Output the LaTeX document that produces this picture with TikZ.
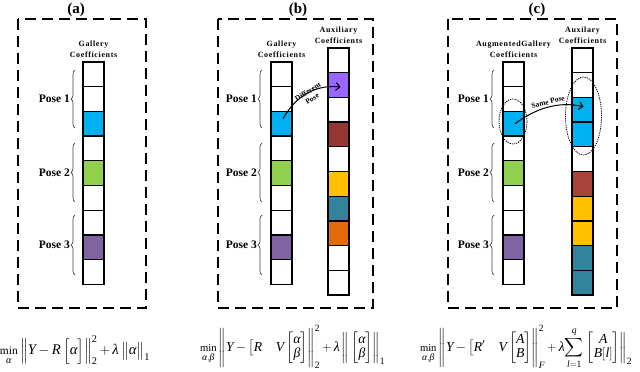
\documentclass[tikz,border=0pt]{standalone}
\usepackage{amsmath}
\usepackage{fontspec}
\usepackage{graphicx}
\setmainfont{Liberation Serif}
\newfontfamily\lblfont[LetterSpace=8]{Liberation Serif}
\usetikzlibrary{decorations.pathreplacing,arrows.meta,shapes.geometric}
\definecolor{cblue}{HTML}{00B0F0}
\definecolor{cgreen}{HTML}{92D050}
\definecolor{cpurple}{HTML}{8064A2}
\definecolor{cviolet}{HTML}{9966FF}
\definecolor{cbrown}{HTML}{943634}
\definecolor{cyellow}{HTML}{FFC000}
\definecolor{cteal}{HTML}{31849B}
\definecolor{corange}{HTML}{E36C09}
\definecolor{cred}{HTML}{A9443C}
\newcommand{\mystrut}[2]{\rule[-#2pt]{0pt}{\dimexpr #1pt+#2pt\relax}}
\newcommand{\mv}[1]{\text{\normalfont\itshape #1}}
\newcommand{\tn}[1]{\text{\normalfont #1}}
\newcommand{\mymin}[1]{\mathop{\mbox{\fontsize{14}{15}\selectfont min}}\limits_{#1}}
\newcommand{\fmsetup}{\setlength{\arraycolsep}{1.5pt}\renewcommand{\arraystretch}{0.9}\medmuskip=3mu plus 2mu minus 4mu}
\begin{document}
\begin{tikzpicture}[x=1pt,y=-1pt,
  cell/.style={draw,line width=1.3pt,minimum width=21pt,minimum height=24.7pt,inner sep=0pt,outer sep=0pt},
  panel/.style={draw,line width=1.2pt,dash pattern=on 11pt off 6pt},
  posebrace/.style={decorate,decoration={brace,amplitude=4pt},line width=0.7pt,draw=black!75},
  poselbl/.style={font=\bfseries\fontsize{11.5}{13}\selectfont,anchor=east,inner sep=0pt},
  collbl/.style={font=\lblfont\bfseries\fontsize{8}{11}\selectfont,align=center,inner sep=0pt},
  arrlbl/.style={font=\bfseries\fontsize{7.5}{8}\selectfont,align=center,inner sep=0pt},
  titlelbl/.style={font=\bfseries\fontsize{15}{17}\selectfont,inner sep=0pt},
  conn/.style={-{Straight Barb[length=4pt,width=8pt]},line width=1pt},
  dotell/.style={draw,ellipse,line width=0.8pt,dash pattern=on 1.2pt off 1pt,inner sep=0pt},
  formula/.style={inner sep=0pt,font=\fontsize{18}{20}\selectfont}
]
\useasboundingbox (0,0) rectangle (640,372);

% panels
\draw[panel] (18,19) rectangle (146,308);
\draw[panel] (218,19) rectangle (373,308);
\draw[panel] (448,19) rectangle (617,308);
\node[titlelbl] (ta) at (76,10) {(a)};
\node[titlelbl] (tb) at (298,10) {(b)};
\node[titlelbl] (tc) at (537,10) {(c)};

% ---- panel (a)
\foreach \c [count=\i] in {white,white,cblue,white,cgreen,white,white,cpurple,white}
  \node[cell,fill=\c] (ga\i) at (93.5,{62+12.35+(\i-1)*24.7}) {};
\node[collbl,anchor=south] (gla) at (ga1.north) [yshift=4pt] {Gallery\\Coefficients};
\draw[posebrace] (75,128) -- (75,70);
\draw[posebrace] (75,202) -- (75,143);
\draw[posebrace] (75,275) -- (75,215);
\node[poselbl] (pa1) at (70,99) {Pose 1};
\node[poselbl] (pa2) at (70,172.5) {Pose 2};
\node[poselbl] (pa3) at (70,245) {Pose 3};

% ---- panel (b)
\foreach \c [count=\i] in {white,white,cblue,white,cgreen,white,white,cpurple,white}
  \node[cell,fill=\c] (gb\i) at (281.5,{62+12.35+(\i-1)*24.7}) {};
\foreach \c [count=\i] in {white,cviolet,white,cbrown,white,cyellow,cteal,corange,white,white}
  \node[cell,fill=\c] (xb\i) at (338.5,{48+12.35+(\i-1)*24.7}) {};
\node[collbl,anchor=south] (glb) at (gb1.north) [yshift=4pt] {Gallery\\Coefficients};
\node[collbl,anchor=south] (xlb) at (xb1.north) [yshift=4pt] {Auxiliary\\Coefficients};
\draw[posebrace] (262,128) -- (262,70);
\draw[posebrace] (262,202) -- (262,143);
\draw[posebrace] (262,275) -- (262,215);
\node[poselbl] (pb1) at (257,99) {Pose 1};
\node[poselbl] (pb2) at (257,172.5) {Pose 2};
\node[poselbl] (pb3) at (257,245) {Pose 3};
\draw[conn] ([xshift=1.5pt,yshift=5pt]gb3.center) .. controls +(12,-22) and +(-25,-3) .. ([xshift=2pt,yshift=-2pt]xb2.center);
\node[arrlbl,rotate=32] (dlb) at (310,95) {Different\\Pose};

% ---- panel (c)
\foreach \c [count=\i] in {white,white,cblue,white,cgreen,white,white,cpurple,white}
  \node[cell,fill=\c] (gc\i) at (513.5,{62+12.35+(\i-1)*24.7}) {};
\foreach \c [count=\i] in {white,white,cblue,cblue,white,cred,cyellow,cyellow,cteal,cteal}
  \node[cell,fill=\c] (xc\i) at (582.5,{48+12.35+(\i-1)*24.7}) {};
\node[collbl,anchor=south] (glc) at (gc1.north) [yshift=4pt] {AugmentedGallery\\Coefficients};
\node[collbl,anchor=south] (xlc) at (xc1.north) [yshift=4pt] {Auxilary\\Coefficients};
\draw[posebrace] (494,128) -- (494,70);
\draw[posebrace] (494,202) -- (494,143);
\draw[posebrace] (494,275) -- (494,215);
\node[poselbl] (pc1) at (489,99) {Pose 1};
\node[poselbl] (pc2) at (489,172.5) {Pose 2};
\node[poselbl] (pc3) at (489,245) {Pose 3};
\node[dotell,minimum width=28pt,minimum height=45pt] (ec1) at (513,121.5) {};
\node[dotell,minimum width=36pt,minimum height=78pt] (ec2) at (583.5,116) {};
\draw[conn] ([xshift=1.5pt]gc3.center) .. controls +(20,-15) and +(-25,-6) .. ([xshift=1pt,yshift=3pt]xc3.center);
\node[arrlbl,rotate=14] (slc) at (548,102) {Same Pose};

% ---- formulas
\node[formula] (fa) at (75,350) {\fmsetup\resizebox{150pt}{!}{$\mymin{\mv{α}}\left\|\mystrut{20}{10}\mv{Y}-\mv{R}\left[\mystrut{17}{8}\mv{α}\right]\right\|_{\tn{2}}^{\tn{2}}+\mv{λ}\left\|\mystrut{14}{6}\mv{α}\right\|_{\tn{1}}$}};
\node[formula] (fb) at (292.5,347) {\fmsetup\resizebox{185pt}{!}{$\mymin{\mv{α},\mv{β}}\left\|\mystrut{26}{22}\mv{Y}-\bigl[\mv{R}\quad\mv{V}\begin{bmatrix}\mv{α}\\\mv{β}\end{bmatrix}\right\|_{\tn{2}}^{\tn{2}}+\mv{λ}\left\|\mystrut{22}{16}\begin{bmatrix}\mv{α}\\\mv{β}\end{bmatrix}\right\|_{\tn{1}}$}};
\node[formula] (fc) at (526,347) {\fmsetup\resizebox{212pt}{!}{$\mymin{\mv{α},\mv{β}}\left\|\mystrut{26}{22}\mv{Y}-\bigl[\mv{R}'\quad\mv{V}\begin{bmatrix}\mv{A}\\\mv{B}\end{bmatrix}\right\|_{\mv{F}}^{\tn{2}}+\mv{λ}{\displaystyle\sum_{\mv{l}=\tn{1}}^{\mv{q}}}\left.\begin{bmatrix}\mv{A}\\\mv{B}[\mv{l}]\end{bmatrix}\right\|_{\tn{2}}$}};
\end{tikzpicture}
\end{document}
